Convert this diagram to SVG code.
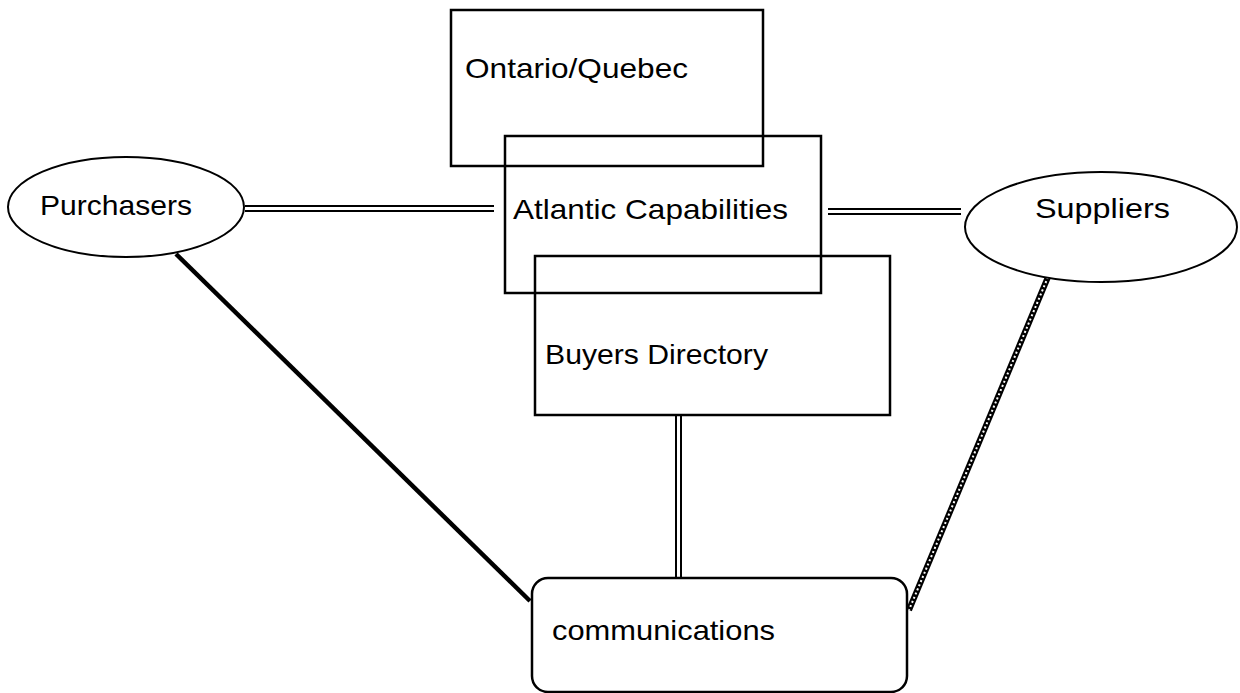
<svg xmlns="http://www.w3.org/2000/svg" width="1240" height="693" viewBox="0 0 1240 693">
<style>
.box{fill:none;stroke:#000;stroke-width:2.5}
.ell{fill:#fff;stroke:#000;stroke-width:2}
.lbl{font-family:"Liberation Sans",Arial,sans-serif;font-size:28px;fill:#000}
.dbl{stroke:#000;stroke-width:2;fill:none}
</style>
<rect width="1240" height="693" fill="#fff"/>
<g id="connectors">
<line class="dbl" x1="245" y1="206" x2="494" y2="206"/>
<line class="dbl" x1="245" y1="211" x2="494" y2="211"/>
<line class="dbl" x1="828" y1="209" x2="961" y2="209"/>
<line class="dbl" x1="828" y1="214" x2="961" y2="214"/>
<line class="dbl" x1="676" y1="415" x2="676" y2="578"/>
<line class="dbl" x1="681" y1="415" x2="681" y2="578"/>
<line x1="176" y1="254" x2="530" y2="601" stroke="#000" stroke-width="4.5"/>
<line x1="1048" y1="277" x2="909" y2="610" stroke="#000" stroke-width="6"/>
<line x1="1048" y1="277" x2="909" y2="610" stroke="#fff" stroke-width="2" stroke-dasharray="2 2.5"/>
</g>
<g id="ontario"><rect class="box" x="451" y="10" width="312" height="156"/><text class="lbl" x="465" y="78" textLength="223" lengthAdjust="spacingAndGlyphs">Ontario/Quebec</text></g>
<g id="atlantic"><rect class="box" x="505" y="136" width="316" height="157"/><text class="lbl" x="513" y="219" textLength="275" lengthAdjust="spacingAndGlyphs">Atlantic Capabilities</text></g>
<g id="buyers"><rect class="box" x="535" y="256" width="355" height="159"/><text class="lbl" x="545" y="364" textLength="223" lengthAdjust="spacingAndGlyphs">Buyers Directory</text></g>
<g id="purchasers"><ellipse class="ell" cx="126" cy="207" rx="118" ry="50"/><text class="lbl" x="40" y="215" textLength="152" lengthAdjust="spacingAndGlyphs">Purchasers</text></g>
<g id="suppliers"><ellipse class="ell" cx="1101" cy="227" rx="136" ry="55"/><text class="lbl" x="1035" y="218" textLength="135" lengthAdjust="spacingAndGlyphs">Suppliers</text></g>
<g id="communications"><rect class="box" x="532" y="578" width="375" height="114" rx="16" ry="16" fill="#fff"/><text class="lbl" x="552" y="640" textLength="223" lengthAdjust="spacingAndGlyphs">communications</text></g>
</svg>
